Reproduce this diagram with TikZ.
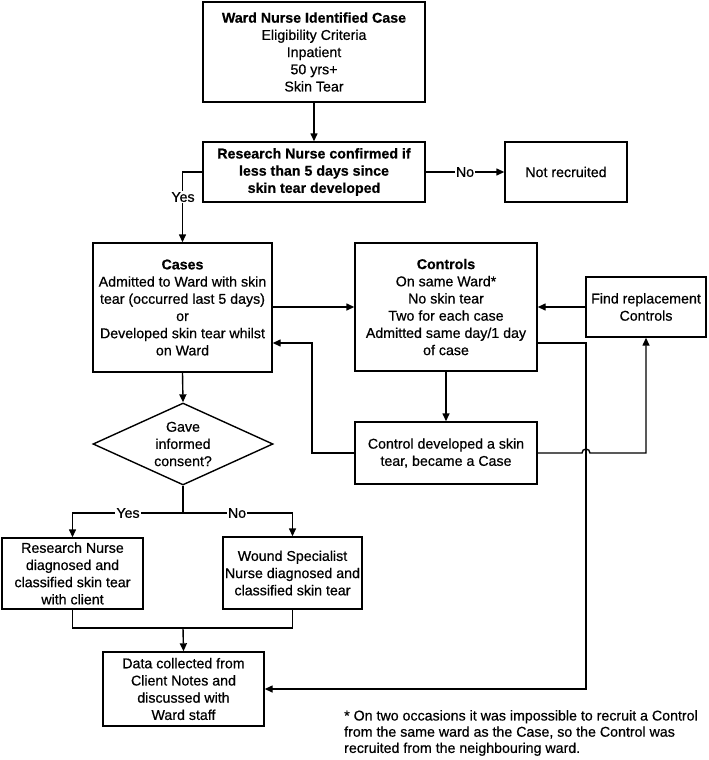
\documentclass[tikz,border=0pt]{standalone}
\usepackage{fontspec}
\setmainfont{Liberation Sans}
\newfontfamily\regfont{Liberation Sans}[FakeBold=0.6]
\usetikzlibrary{arrows.meta,shapes.geometric}
\newcommand\fs{\regfont\fontsize{14.2}{17.2}\selectfont}
\begin{document}
\begin{tikzpicture}[x=1pt,y=-1pt,
  box/.style={draw, line width=1.4pt, align=center, inner sep=0pt, font=\fs},
  conn/.style={line width=1.4pt},
  arr/.style={conn, -{Triangle[length=8pt,width=7pt]}},
  lbl/.style={fill=white, inner sep=1pt, font=\fs}]
\useasboundingbox (0,0) rectangle (709,760);
% boxes
\node[box, minimum width=222pt, minimum height=100pt] (top) at (314,52)
  {\bfseries Ward Nurse Identified Case\\Eligibility Criteria\\Inpatient\\50 yrs+\\Skin Tear};
\node[box, minimum width=222pt, minimum height=60pt, font=\fs\bfseries] (rn) at (314,172)
  {Research Nurse confirmed if\\less than 5 days since\\skin tear developed};
\node[box, minimum width=122pt, minimum height=60pt] (notrec) at (566,172) {Not recruited};
\node[box, minimum width=179pt, minimum height=129pt] (cases) at (182.5,307.5)
  {\bfseries Cases\\Admitted to Ward with skin\\tear (occurred last 5 days)\\or\\Developed skin tear whilst\\on Ward};
\node[box, minimum width=182pt, minimum height=128pt] (controls) at (446,307)
  {\bfseries Controls\\On same Ward*\\No skin tear\\Two for each case\\Admitted same day/1 day\\of case};
\node[box, minimum width=120pt, minimum height=60pt] (findrep) at (646,307)
  {Find replacement\\Controls};
\node[box, minimum width=182pt, minimum height=62pt] (ctrldev) at (446,453)
  {Control developed a skin\\tear, became a Case};
\node[draw, line width=1.4pt, diamond, minimum width=180pt, minimum height=82pt, inner sep=0pt] (dia) at (183,444) {};
\node[align=center, inner sep=0pt, font=\fs] (diatext) at (dia.center) {Gave\\informed\\consent?};
\node[box, minimum width=141pt, minimum height=71pt] (rnd) at (72.5,573.5)
  {Research Nurse\\diagnosed and\\classified skin tear\\with client};
\node[box, minimum width=139pt, minimum height=72pt] (wsn) at (292.5,573)
  {Wound Specialist\\Nurse diagnosed and\\classified skin tear};
\node[box, minimum width=161pt, minimum height=74pt] (data) at (183.5,689)
  {Data collected from\\Client Notes and\\discussed with\\Ward staff};
\node[align=left, inner sep=0pt, anchor=north west, font=\regfont\fontsize{14.2}{16.2}\selectfont] (note) at (344,710)
  {* On two occasions it was impossible to recruit a Control\\from the same ward as the Case, so the Control was\\recruited from the neighbouring ward.};
% helper coordinates
\coordinate (r1) at (312,343);
\coordinate (r2) at (586,343);
\coordinate (jmp) at (586,453);
\coordinate (split) at (183,513);
\coordinate (merge) at (183,628);
% connectors
\draw[arr] (top.south) -- (rn.north);
\draw[arr] (rn.east) -- node[lbl] (nolbl) {No} (notrec.west);
\draw[arr] (rn.west) -| (cases.north);
\node[lbl] (yeslbl) at (183,197) {Yes};
\draw[arr] (cases.east |- controls.west) -- (controls.west);
\draw[arr] (findrep.west) -- (controls.east);
\draw[arr] (controls.south) -- (ctrldev.north);
\draw[arr] (ctrldev.west) -| (r1) -- (r1 -| cases.east);
\draw[arr] (ctrldev.east) -- ([xshift=-4pt]jmp) arc[start angle=180, end angle=0, radius=4pt] -| (findrep.south);
\draw[arr] (r2 -| controls.east) -- (r2) |- (data.east);
\draw[arr] (cases.south) -- (dia.north);
\draw[conn] (dia.south) -- (split);
\draw[arr] (split) -| (rnd.north);
\draw[arr] (split) -| (wsn.north);
\node[lbl] (yes2) at (128,513) {Yes};
\node[lbl] (no2) at (237,513) {No};
\draw[conn] (rnd.south) |- (merge) -| (wsn.south);
\draw[arr] (merge) -- (data.north);
\end{tikzpicture}
\end{document}
